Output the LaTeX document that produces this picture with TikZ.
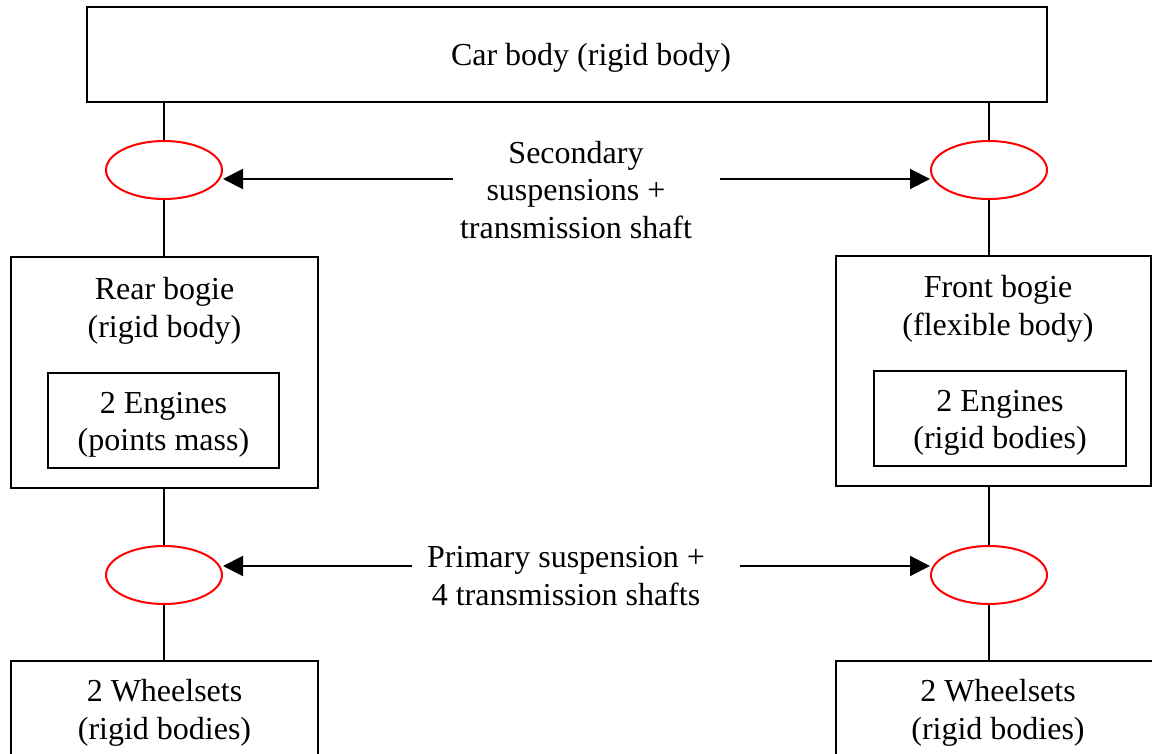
\documentclass[tikz,border=0pt]{standalone}
\usepackage{fontspec}
\setmainfont{Liberation Serif}
\usetikzlibrary{shapes.geometric,arrows.meta}
\begin{document}
\begin{tikzpicture}[x=1pt,y=-1pt,line width=2pt,
  font=\fontsize{32}{37.5}\selectfont,
  box/.style={draw,rectangle,inner sep=0pt},
  susp/.style={draw=red,ellipse,line width=2pt,minimum width=116pt,minimum height=58pt,inner sep=0pt},
  txt/.style={align=center,inner sep=0pt},
  arr/.style={-{Triangle[length=20pt,width=20pt]}}]
\useasboundingbox (0,0) rectangle (1152,754);
\node[box, minimum width=960pt, minimum height=95pt] (car) at (567,54.5){};
\node[txt] (cartxt) at (591,58){Car body (rigid body)};
\node[susp] (rs) at (164,170){};
\node[susp] (fs) at (989,170){};
\node[box, minimum width=307pt, minimum height=231pt] (rear) at (164.5,372.5){};
\node[txt] (reartxt) at (164.5,311){Rear bogie\\(rigid body)};
\node[box, minimum width=231pt, minimum height=95pt] (reareng) at (163.5,420.5){};
\node[txt] (rearengtxt) at (163.5,425){2 Engines\\(points mass)};
\node[box, minimum width=315pt, minimum height=230pt] (front) at (993.5,371){};
\node[txt] (fronttxt) at (998,309){Front bogie\\(flexible body)};
\node[box, minimum width=252pt, minimum height=95pt] (fronteng) at (1000,418.5){};
\node[txt] (frontengtxt) at (1000,423){2 Engines\\ (rigid bodies)};
\node[susp] (rp) at (164,575){};
\node[susp] (fp) at (989,575){};
\node[box, minimum width=307pt, minimum height=95pt] (rearwheel) at (164.5,708.5){};
\node[txt] (rearwheeltxt) at (164.5,713){2 Wheelsets\\(rigid bodies)};
\node[box, minimum width=324pt, minimum height=95pt] (frontwheel) at (998,708.5){};
\node[txt] (frontwheeltxt) at (998,713){2 Wheelsets\\(rigid bodies)};
\node[txt] (sec) at (576,190){Secondary\\suspensions +\\transmission shaft};
\node[txt] (prim) at (566,576){Primary suspension +\\4 transmission shafts};
% arrows to the suspensions
\coordinate (sa) at (453,179);
\coordinate (sb) at (720,179);
\coordinate (pa) at (412,566);
\coordinate (pb) at (740,566);
\draw[arr] (sa) -- (rs.east |- sa);
\draw[arr] (sb) -- (fs.west |- sb);
\draw[arr] (pa) -- (rp.east |- pa);
\draw[arr] (pb) -- (fp.west |- pb);
% vertical links
\draw (rs.north) -- (rs.north |- car.south);
\draw (fs.north) -- (fs.north |- car.south);
\draw (rs.south) -- (rs.south |- rear.north);
\draw (fs.south) -- (fs.south |- front.north);
\draw (rp.north) -- (rp.north |- rear.south);
\draw (fp.north) -- (fp.north |- front.south);
\draw (rp.south) -- (rp.south |- rearwheel.north);
\draw (fp.south) -- (fp.south |- frontwheel.north);
\end{tikzpicture}
\end{document}
